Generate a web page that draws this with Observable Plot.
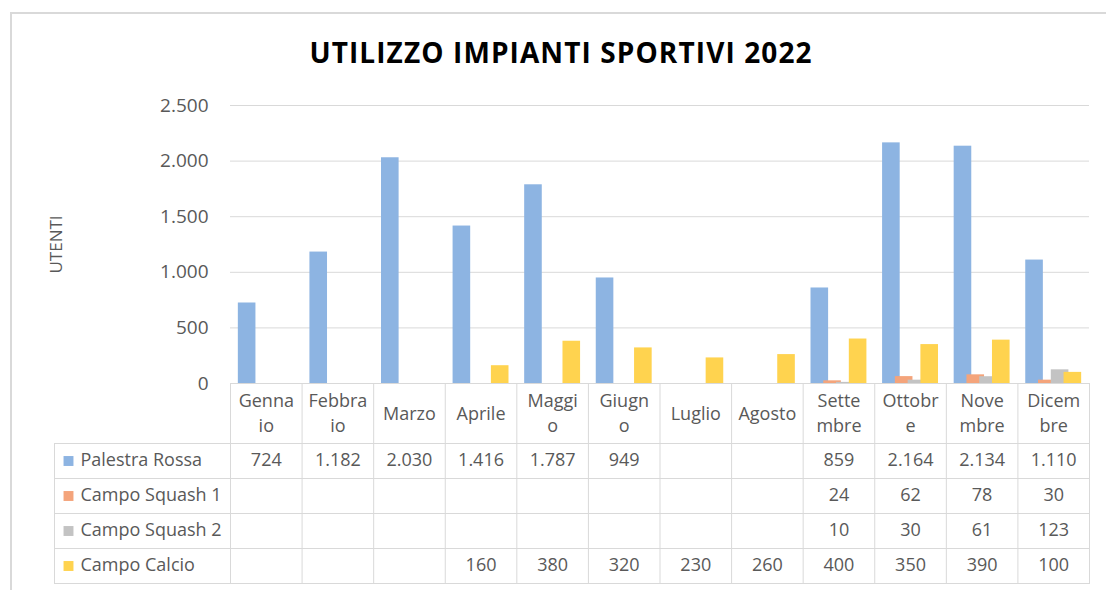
<!DOCTYPE html>
<html><head><meta charset="utf-8">
<script src="https://cdn.jsdelivr.net/npm/d3@7"></script>
<script src="https://cdn.jsdelivr.net/npm/@observablehq/plot@0.6"></script>
<style>
body{margin:0;background:#fff;}
#wrap{position:relative;width:1106px;height:590px;overflow:hidden;font-family:"Open Sans",sans-serif;background:#fff;}
#border{position:absolute;left:10px;top:12px;width:1120px;height:620px;border:2px solid #d9d9d9;box-sizing:border-box;}
#title{position:absolute;left:561px;top:52px;transform:translate(-50%,-50%);font-weight:bold;font-size:28px;letter-spacing:1.1px;color:#000;white-space:nowrap;font-family:"Open Sans",sans-serif;}
#chart{position:absolute;left:0;top:0}
#table{position:absolute;left:0;top:383px}
</style></head>
<body><div id="wrap"><div id="border"></div><div id="title">UTILIZZO IMPIANTI SPORTIVI 2022</div><div id="chart"></div><div id="table"></div></div>
<script>
// ---- data ----
const months = ["Gennaio","Febbraio","Marzo","Aprile","Maggio","Giugno","Luglio","Agosto","Settembre","Ottobre","Novembre","Dicembre"];
const monthLabels = ["Genna\nio","Febbra\nio","Marzo","Aprile","Maggi\no","Giugn\no","Luglio","Agosto","Sette\nmbre","Ottobr\ne","Nove\nmbre","Dicem\nbre"];
const seriesNames = ["Palestra Rossa","Campo Squash 1","Campo Squash 2","Campo Calcio"];
const palestraRossa = [724,1182,2030,1416,1787,949,null,null,859,2164,2134,1110];
const campoSquash1 = [null,null,null,null,null,null,null,null,24,62,78,30];
const campoSquash2 = [null,null,null,null,null,null,null,null,10,30,61,123];
const campoCalcio = [null,null,null,160,380,320,230,260,400,350,390,100];
const yTicks = [0,500,1000,1500,2000,2500];
const colors = ["#8db4e2","#f4a47b","#c3c3c3","#ffd34f"];

// ---- build ----
const seriesValues = [palestraRossa, campoSquash1, campoSquash2, campoCalcio];
const fmt = d3.formatLocale({decimal:",", thousands:".", grouping:[3], currency:["€",""]}).format(",d");
const W = 1106, ML = 230, MR = 17;
const bw = (W - ML - MR) / months.length;
const step = 12.77;
const offsets = [-1.5, -0.5, 0.5, 1.5].map(k => k * step);
const barW = 17.6;
const inset = (bw - barW) / 2;
const gridColor = "#d9d9d9";
const textColor = "#595959";

const seriesData = seriesValues.map((vals, s) =>
  months.map((m, i) => ({month: m, series: seriesNames[s], value: vals[i]})).filter(d => d.value != null));

const chart = Plot.plot({
  width: W, height: 400,
  marginTop: 105, marginBottom: 17, marginLeft: ML, marginRight: MR,
  style: {fontFamily: "Open Sans, sans-serif", color: textColor, background: "transparent", overflow: "visible"},
  x: {type: "band", domain: months, padding: 0, round: false, axis: null},
  y: {domain: [0, 2500], axis: null},
  marks: [
    Plot.gridY(yTicks, {stroke: gridColor, strokeOpacity: 1}),
    Plot.axisY(yTicks, {tickSize: 0, tickPadding: 22, tickFormat: fmt, fontSize: 19, fill: textColor, label: null}),
    Plot.text(["UTENTI"], {text: d => d, frameAnchor: "left", textAnchor: "middle", dx: -174, rotate: -90, fontSize: 17, fill: textColor}),
    ...seriesData.map((data, s) => Plot.barY(data, {
      x: "month", y: "value", fill: colors[s], insetLeft: inset, insetRight: inset, dx: offsets[s]
    }))
  ]
});
document.getElementById("chart").appendChild(chart);

const cells = seriesData.flat();
const table = Plot.plot({
  width: W, height: 201,
  marginTop: 60, marginBottom: 1, marginLeft: ML, marginRight: MR,
  style: {fontFamily: "Open Sans, sans-serif", color: textColor, background: "transparent", overflow: "visible"},
  x: {type: "band", domain: months, padding: 0, round: false, axis: null},
  y: {type: "band", domain: seriesNames, padding: 0, round: false, axis: null},
  color: {domain: seriesNames, range: colors},
  marks: [
    Plot.frame({stroke: gridColor, insetTop: -60}),
    Plot.ruleX(months.slice(1), {x: d => d, dx: -bw / 2, insetTop: -60, stroke: gridColor}),
    Plot.ruleX([months[0]], {x: d => d, dx: -bw / 2 - 176, stroke: gridColor}),
    Plot.ruleY(seriesNames, {y: d => d, dy: -17.5, insetLeft: -176, stroke: gridColor}),
    Plot.ruleY([seriesNames[seriesNames.length - 1]], {y: d => d, dy: 17.5, insetLeft: -176, stroke: gridColor}),
    Plot.text(months, {x: d => d, text: (d, i) => monthLabels[i], frameAnchor: "top", textAnchor: "middle", dy: -32, lineAnchor: "middle", lineHeight: 1.4, fontSize: 18, fill: textColor}),
    Plot.text(cells, {x: "month", y: "series", text: d => fmt(d.value), dy: -1, fontSize: 18, fill: textColor}),
    Plot.dot(seriesNames, {y: d => d, frameAnchor: "left", dx: -162, symbol: "square", r: 5.6, fill: d => d}),
    Plot.text(seriesNames, {y: d => d, text: d => d, frameAnchor: "left", dx: -150, dy: -1, textAnchor: "start", fontSize: 18, fill: textColor})
  ]
});
document.getElementById("table").appendChild(table);
</script>
</body></html>
